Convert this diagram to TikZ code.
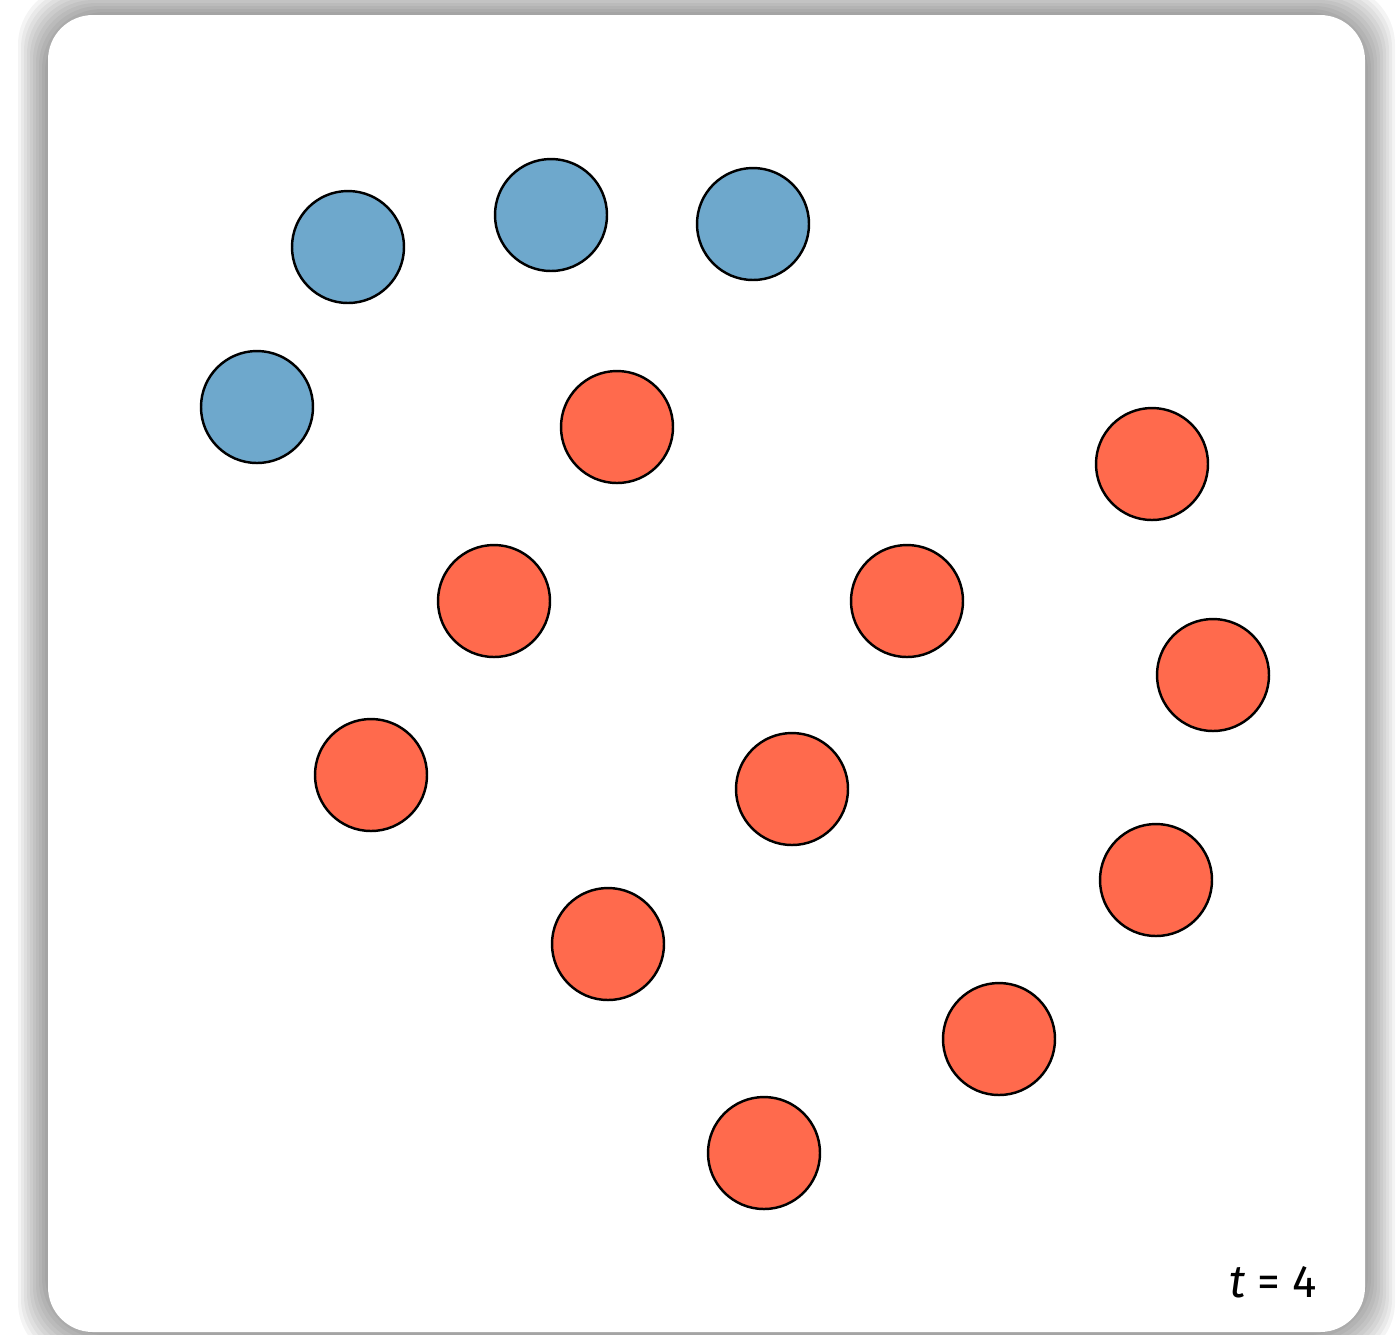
\documentclass[tikz,border=0pt]{standalone}
\usepackage{fontspec}
\setmainfont{Fira Sans}
\usetikzlibrary{positioning}
\definecolor{agentA}{HTML}{6EA8CC}
\definecolor{agentB}{HTML}{FF6A4D}
\tikzset{blue/.style={circle,draw=black,line width=0.7pt,fill=agentA,minimum size=11.2mm,inner sep=0pt},
  red/.style={circle,draw=black,line width=0.7pt,fill=agentB,minimum size=11.2mm,inner sep=0pt}}

\begin{document}
\begin{tikzpicture}[x=0.1mm,y=-0.1mm]
\useasboundingbox (0,0) rectangle (1396,1334);
% soft shadow round the card
\foreach \s in {30,27,...,3}
  \fill[black,opacity=0.045,rounded corners=6mm] (48-\s,15-\s) rectangle (1365+\s,1332+\s);
\fill[white,rounded corners=4.5mm] (48,15) rectangle (1365,1332);
% group one
\node[blue] (b1) at (348,247) {};
\node[blue] (b2) at (551,215) {};
\node[blue] (b3) at (753,224) {};
\node[blue] (b4) at (257,407) {};
% group two
\node[red] (r1) at (617,427) {};
\node[red] (r2) at (1152,464) {};
\node[red] (r3) at (494,601) {};
\node[red] (r4) at (907,601) {};
\node[red] (r5) at (1213,675) {};
\node[red] (r6) at (371,775) {};
\node[red] (r7) at (792,789) {};
\node[red] (r8) at (1156,880) {};
\node[red] (r9) at (608,944) {};
\node[red] (r10) at (999,1039) {};
\node[red] (r11) at (764,1153) {};
\node[font=\fontsize{13pt}{15pt}\selectfont] (time) at (1273,1282) {\textit{t} = 4};
\end{tikzpicture}
\end{document}
